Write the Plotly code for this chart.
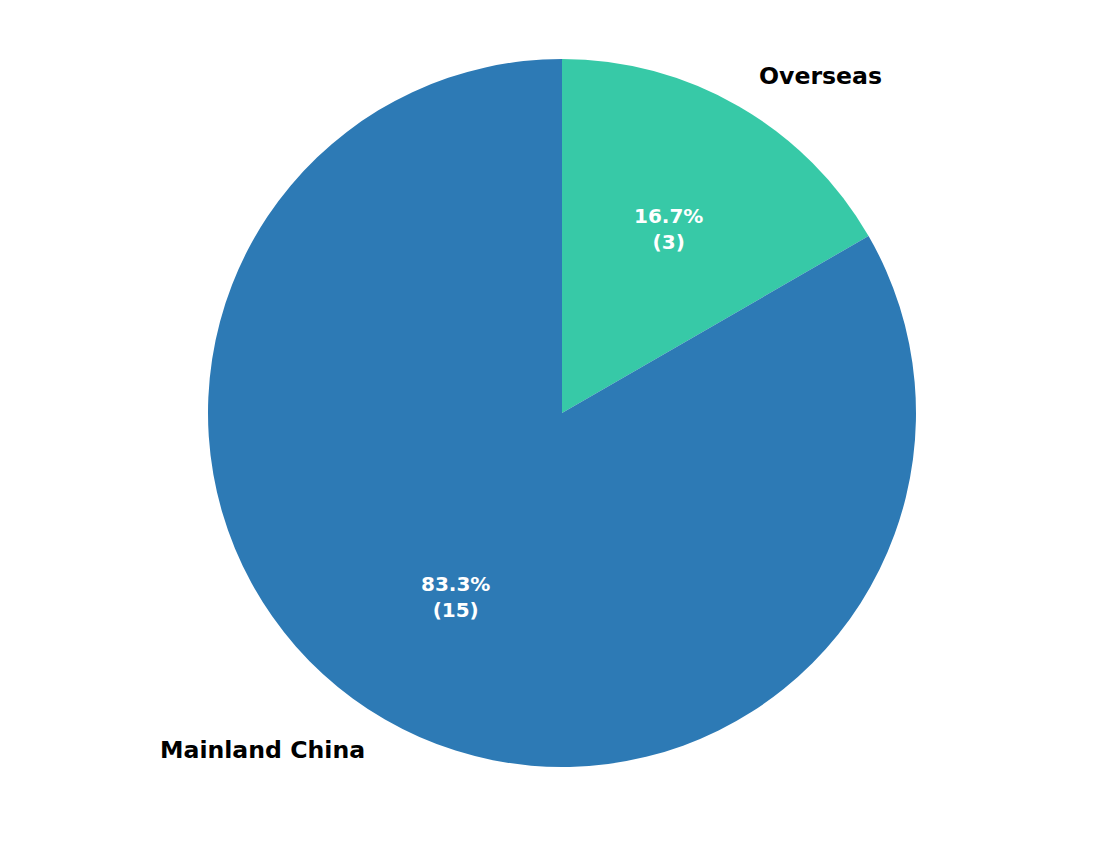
"""Pie: share of entries from Mainland China vs Overseas."""

import math

import plotly.graph_objects as go

LABELS = ["Overseas", "Mainland China"]
COUNTS = [3, 15]
COLORS = ["#37c9a7", "#2d7ab5"]

W, H = 1114, 847
# pie centre and radius, in figure pixels (page body adds an 8px margin)
CX, CY, R = 554, 405, 354

FONT = "DejaVu Sans, Verdana, sans-serif"


def to_paper(px, py):
    return px / W, 1 - py / H


fig = go.Figure(
    go.Pie(
        labels=LABELS,
        values=COUNTS,
        marker=dict(colors=COLORS, line=dict(width=0)),
        sort=False,
        direction="clockwise",
        rotation=0,
        textinfo="none",
        hoverinfo="label+value+percent",
        showlegend=False,
        domain=dict(
            x=[(CX - R) / W, (CX + R) / W],
            y=[1 - (CY + R) / H, 1 - (CY - R) / H],
        ),
    )
)

# matplotlib-style labels: name at 1.1 r, percentage at 0.6 r, mid-angle of slice
total = sum(COUNTS)
start = 0.0
for label, n in zip(LABELS, COUNTS):
    frac = n / total
    mid = (start + frac / 2) * 2 * math.pi
    start += frac
    dx, dy = math.sin(mid), -math.cos(mid)

    x, y = to_paper(CX + 1.1 * R * dx, CY + 1.1 * R * dy)
    fig.add_annotation(
        x=x, y=y, xref="paper", yref="paper",
        text=f"<b>{label}</b>", showarrow=False,
        xanchor="left" if dx > 0 else "right", yanchor="middle",
        font=dict(family=FONT, size=23.6, color="black"),
    )

    x, y = to_paper(CX + 0.6 * R * dx, CY + 0.6 * R * dy)
    fig.add_annotation(
        x=x, y=y, xref="paper", yref="paper",
        text=f"<b>{frac:.1%}<br>({n})</b>", showarrow=False,
        xanchor="center", yanchor="middle",
        font=dict(family=FONT, size=20, color="white"),
    )

fig.update_layout(
    width=W,
    height=H,
    margin=dict(l=0, r=0, t=0, b=0),
    paper_bgcolor="white",
    plot_bgcolor="white",
)

fig.write_html("out.html")
